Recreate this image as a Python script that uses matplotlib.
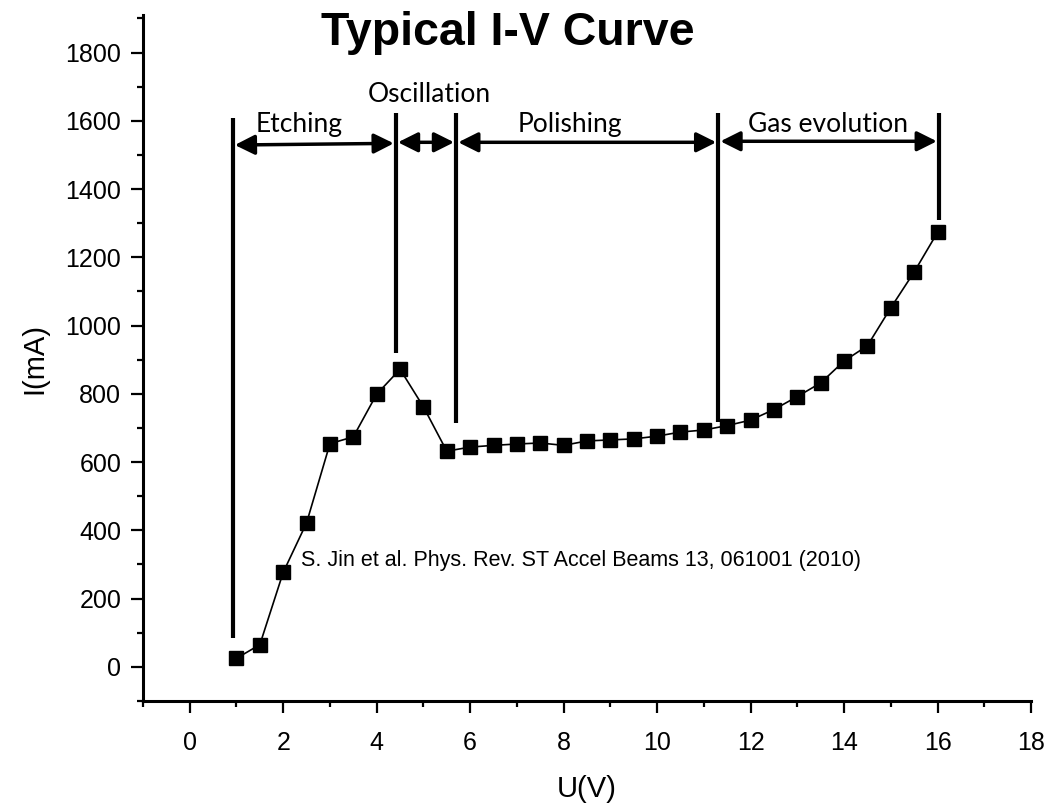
import matplotlib
matplotlib.use('Agg')
import matplotlib.pyplot as plt
from matplotlib.ticker import MultipleLocator

plt.rcParams['font.family'] = ['Liberation Sans', 'DejaVu Sans']

# measured I-V curve (U in volts, I in mA)
voltage = [1, 1.5, 2, 2.5, 3, 3.5, 4, 4.5, 5, 5.5, 6, 6.5, 7, 7.5, 8, 8.5,
           9, 9.5, 10, 10.5, 11, 11.5, 12, 12.5, 13, 13.5, 14, 14.5, 15, 15.5, 16]
current = [25, 65, 277, 422, 654, 674, 799, 872, 762, 632, 644, 649, 653, 656, 649, 662,
           665, 668, 676, 688, 694, 707, 723, 754, 792, 832, 896, 941, 1052, 1157, 1273]

# region boundaries (vertical bars)
bound_u = [0.92, 4.41, 5.70, 11.31, 16.03]
bound_top = [1608, 1622, 1622, 1622, 1622]
bound_bottom = [85, 919, 714, 717, 1309]

# regions between boundaries
region_names = ['Etching', 'Oscillation', 'Polishing', 'Gas evolution']
region_label_u = [2.33, 5.12, 8.14, 13.65]
region_label_i = [1567, 1654, 1567, 1567]
arrow_left_i = [1529, 1537, 1537, 1540]
arrow_right_i = [1534, 1537, 1537, 1540]

citation = 'S. Jin et al. Phys. Rev. ST Accel Beams 13, 061001 (2010)'

fig = plt.figure(figsize=(10.52, 8.08), dpi=100)
ax = fig.add_axes([143 / 1052, 1 - 701 / 808, 888 / 1052, 686 / 808])

ax.plot(voltage, current, color='black', linewidth=1.2,
        marker='s', markersize=10, markerfacecolor='black', markeredgecolor='black')

ax.vlines(bound_u, bound_bottom, bound_top, colors='black', linewidth=3)

for i, name in enumerate(region_names):
    ax.annotate('', xy=(bound_u[i + 1], arrow_right_i[i]), xytext=(bound_u[i], arrow_left_i[i]),
                arrowprops=dict(arrowstyle='<|-|>,head_length=1.2,head_width=0.6',
                                color='black', lw=2.5, shrinkA=1.5, shrinkB=1.5))
    ax.text(region_label_u[i], region_label_i[i], name, ha='center', va='baseline',
            fontsize=19, family=['Lato', 'DejaVu Sans'])

ax.text(2.38, 313, citation, ha='left', va='center', fontsize=15.5)

ax.set_xlim(-1, 18)
ax.set_ylim(-100, 1910)
ax.xaxis.set_major_locator(MultipleLocator(2))
ax.xaxis.set_minor_locator(MultipleLocator(1))
ax.yaxis.set_major_locator(MultipleLocator(200))
ax.yaxis.set_minor_locator(MultipleLocator(100))
ax.set_yticks(range(0, 1801, 200))

for side in ['top', 'right']:
    ax.spines[side].set_visible(False)
for side in ['left', 'bottom']:
    ax.spines[side].set_linewidth(2.2)

ax.tick_params(which='major', length=8.6, width=1.6, labelsize=18)
ax.tick_params(which='minor', length=4.5, width=1.6)
ax.tick_params(axis='x', which='major', pad=13)
ax.tick_params(axis='y', which='major', pad=7)

ax.set_xlabel('U(V)', fontsize=21)
ax.set_ylabel('I(mA)', fontsize=21)
ax.xaxis.set_label_coords(0.5, -0.108)
ax.yaxis.set_label_coords(-0.107, 0.5)

fig.text(508 / 1052, 1 - 45 / 808, 'Typical I-V Curve', ha='center', va='baseline',
         fontsize=33.5, fontweight='bold')

fig.savefig('out.png', dpi=100)
